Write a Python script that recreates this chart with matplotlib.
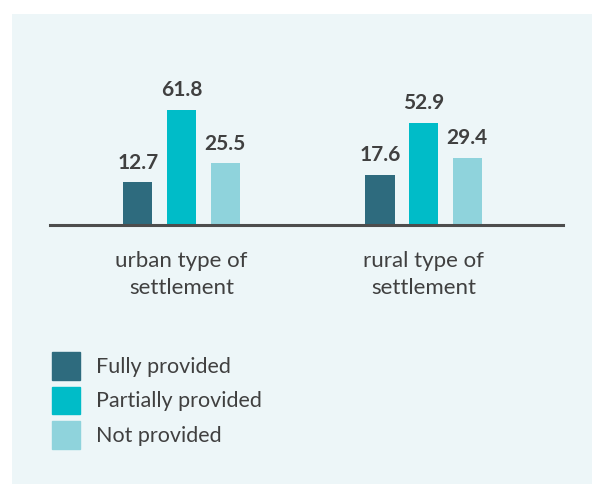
import numpy as np
import matplotlib.pyplot as plt
import matplotlib.patches as mpatches

plt.rcParams['font.family'] = ['Lato', 'DejaVu Sans']

categories = ['urban type of\nsettlement', 'rural type of\nsettlement']
series = ['Fully provided', 'Partially provided', 'Not provided']
values = {
    'Fully provided': [12.7, 17.6],
    'Partially provided': [61.8, 52.9],
    'Not provided': [25.5, 29.4],
}
colors = ['#2e6b7e', '#00bcc8', '#8fd3dc']

W, H = 592, 484
fig = plt.figure(figsize=(W / 100, H / 100), dpi=100)
fig.patch.set_facecolor('white')

# light panel behind the chart
panel = mpatches.Rectangle((12 / W, 0), 1 - 12 / W, 1 - 14 / H,
                           transform=fig.transFigure, facecolor='#edf6f8',
                           edgecolor='none', zorder=-5)
fig.patches.append(panel)

ax = fig.add_axes([50 / W, 1 - 225 / H, 513 / W, 195 / H])
ax.set_facecolor('none')

base = -16
x = np.arange(len(categories))
width = 0.12
step = 0.18
for i, (name, col) in enumerate(zip(series, colors)):
    vals = np.array(values[name])
    pos = x + (i - 1) * step
    ax.bar(pos, vals - base, bottom=base, width=width, color=col, zorder=2)
    for p, v in zip(pos, vals):
        ax.annotate(f'{v:.1f}', (p, v), xytext=(0, 7), textcoords='offset points',
                    ha='center', va='bottom', fontsize=15, fontweight='bold',
                    color='#404040')

ax.set_xlim(-0.543, 1.576)
ax.set_ylim(base, 115.5)
for s in ['top', 'right', 'left']:
    ax.spines[s].set_visible(False)
ax.spines['bottom'].set_color('#4d4d4d')
ax.spines['bottom'].set_linewidth(2.2)
ax.set_yticks([])
ax.set_xticks(x)
ax.set_xticklabels(categories, fontsize=16, color='#404040', linespacing=1.42)
ax.tick_params(axis='x', length=0, pad=19)

handles = [mpatches.Patch(color=c, label=n) for n, c in zip(series, colors)]
fig.legend(handles=handles, loc='upper left',
           bbox_to_anchor=(52 / W, 1 - 352 / H), frameon=False, borderpad=0,
           borderaxespad=0, fontsize=15.5, handlelength=1.3, handleheight=1.6,
           handletextpad=0.75, labelspacing=0.32, labelcolor='#404040')

fig.savefig('out.png', dpi=100)
